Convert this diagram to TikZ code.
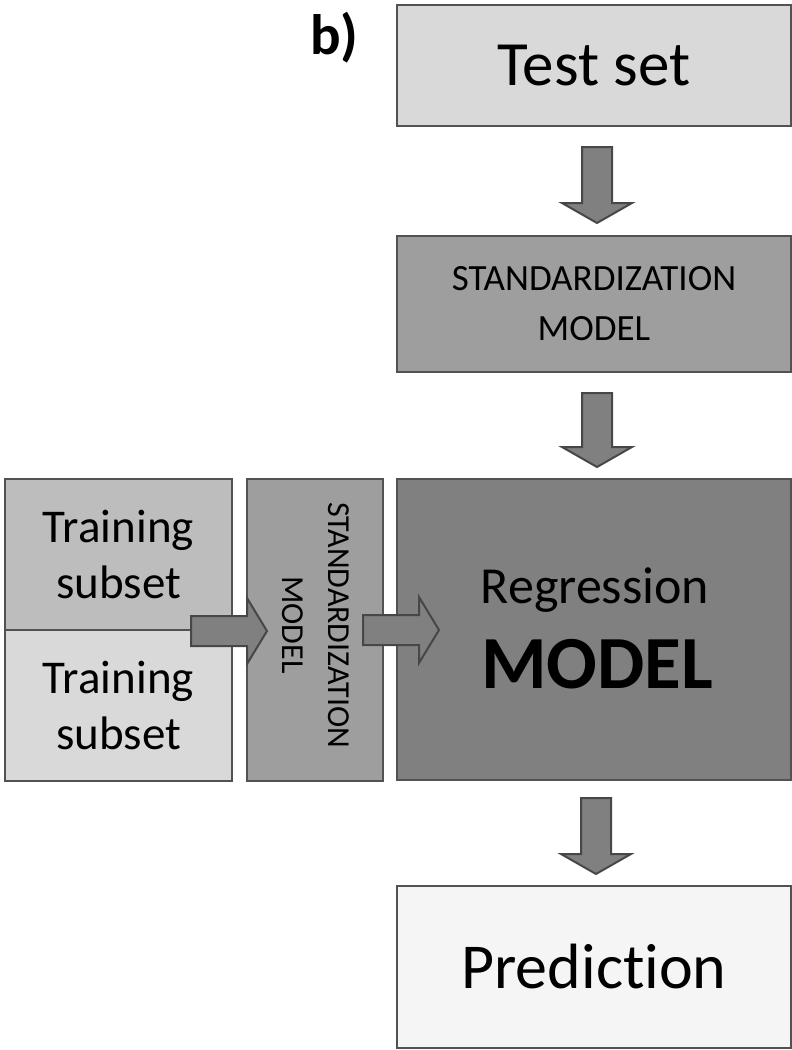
\documentclass[tikz,border=0pt]{standalone}
\usepackage{fontspec}
\setmainfont{Carlito}[Ligatures={NoCommon,NoRare,NoContextual}]
\begin{document}
\begin{tikzpicture}[x=1pt,y=-1pt,
  box/.style={draw=black!68, line width=2.2pt, inner sep=0pt, outer sep=0pt, text=black, align=center},
  blockarrow/.style={draw=black!72, line width=2pt, fill=black!50, line join=miter}]
\useasboundingbox (0,0) rectangle (792,1050);
% boxes
\node[box, fill=black!15, minimum width=394pt, minimum height=121pt, font=\fontsize{63}{70}\selectfont] (test) at (594,65.5) {Test set};
\node[box, fill=black!38, minimum width=394pt, minimum height=136pt, font=\fontsize{37}{50}\selectfont] (std) at (594,304) {STANDARDIZATION\\MODEL};
\node[box, fill=black!50, minimum width=394pt, minimum height=301pt] (reg) at (594,629.5) {};
\node[box, fill=black!4, minimum width=394pt, minimum height=162pt, font=\fontsize{64}{70}\selectfont] (pred) at (594,967) {Predic\kern0pt tion};
\node[box, fill=black!26, minimum width=227pt, minimum height=151pt, font=\fontsize{47}{56}\selectfont] (tr1) at (118.5,554.5) {Training\\subset};
\node[box, fill=black!15, minimum width=227pt, minimum height=151pt, font=\fontsize{47}{56}\selectfont] (tr2) at (118.5,705.5) {Training\\subset};
\node[box, fill=black!38, minimum width=136pt, minimum height=302pt] (vstd) at (315,630) {};
\node[rotate=-90, align=center, font=\fontsize{32}{46}\selectfont, inner sep=0pt] (vtext) at (316,625) {STANDARDIZATION\\MODEL};
% regression text
\node[inner sep=0pt, font=\fontsize{52}{50}\selectfont, anchor=base] (regt) at (595,603) {Regression};
\node[inner sep=0pt, font=\fontsize{75}{80}\selectfont\bfseries, anchor=base] (regm) at (597,688) {MODEL};
% label
\node[inner sep=0pt, font=\fontsize{57}{60}\selectfont\bfseries, anchor=base west] (lbl) at (310,54) {b)};
% down arrows
\newcommand\blockdown[3]{%
  \draw[blockarrow] (#1-15,#2) -- (#1+15,#2) -- (#1+15,#3-20) -- (#1+35,#3-20) -- (#1,#3) -- (#1-35,#3-20) -- (#1-15,#3-20) -- cycle;}
\blockdown{597}{147}{223}
\blockdown{597}{393}{467}
\blockdown{596}{798}{874}
% right arrows
\newcommand\blockright[3]{%
  \draw[blockarrow] (#1,#3-15) -- (#2-20,#3-15) -- (#2-20,#3-33) -- (#2,#3) -- (#2-20,#3+33) -- (#2-20,#3+15) -- (#1,#3+15) -- cycle;}
\blockright{191}{267}{631}
\blockright{363}{439}{630}
\end{tikzpicture}
\end{document}
